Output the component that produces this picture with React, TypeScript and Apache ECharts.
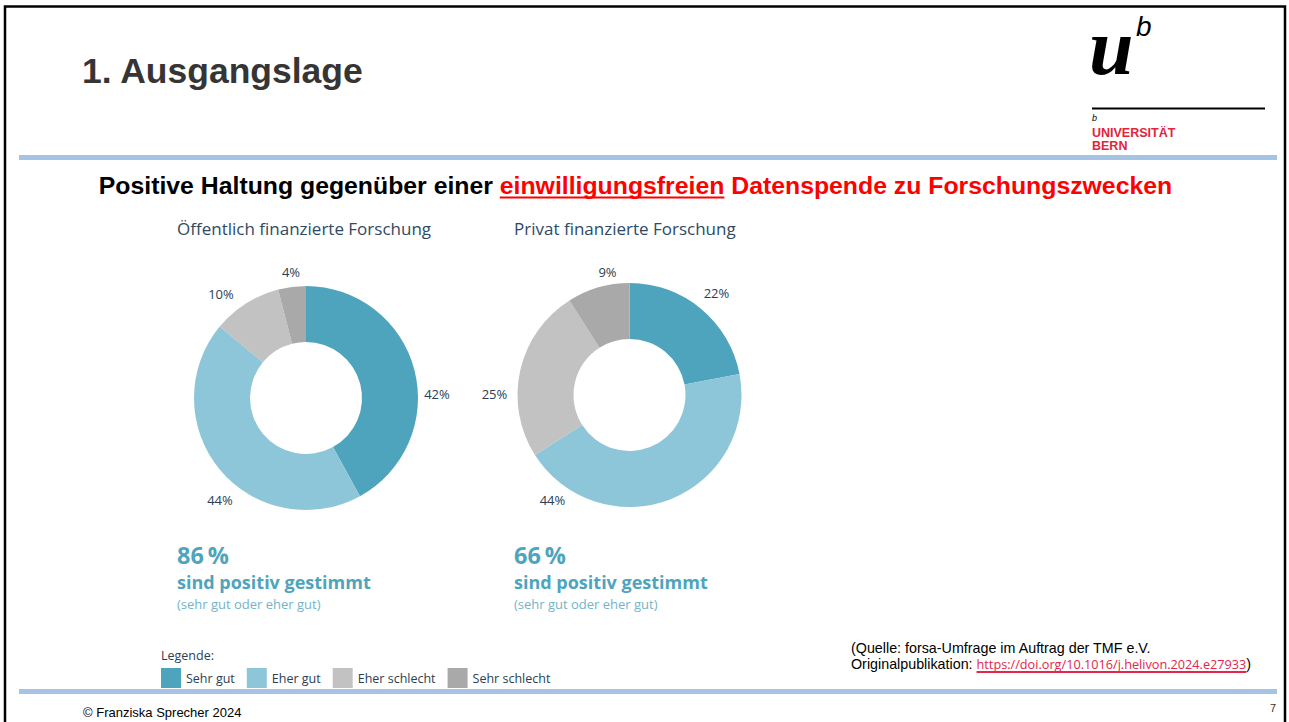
import React, { useEffect, useRef } from "react";
import * as echarts from "echarts";

// ---- data ----
const categories = ["Sehr gut", "Eher gut", "Eher schlecht", "Sehr schlecht"];
const publicValues = [42, 44, 10, 4];
const privateValues = [22, 44, 25, 9];
const chartTitles = ["Öffentlich finanzierte Forschung", "Privat finanzierte Forschung"];
const sliceColors = ["#4FA4BD", "#8CC6D8", "#C2C2C2", "#A9A9A9"];

// ---- layout (label anchor offsets relative to donut centre) ----
const donutCenters: [number, number][] = [
  [306, 398],
  [629.5, 395],
];
const labelOffsets: [number, number][][] = [
  [[131, -4], [-86, 102], [-85, -104], [-15, -126]],
  [[87, -102], [-77, 105], [-135, -1], [-22, -123]],
];

const NAVY = "#2B3E55";
const TEAL = "#4FA4BD";

function measure(text: string, font: string): number {
  const c = document.createElement("canvas").getContext("2d")!;
  c.font = font;
  return c.measureText(text).width;
}

export default function App() {
  const ref = useRef<HTMLDivElement>(null);
  useEffect(() => {
    if (!ref.current) return;
    const chart = echarts.init(ref.current, undefined, { renderer: "svg" });

    // subtitle pieces (fitted to span 98..1173)
    const s1 = "Positive Haltung gegenüber einer ";
    const s2 = "einwilligungsfreien";
    const s3 = " Datenspende zu Forschungszwecken";
    const baseFont = (sz: number) => `bold ${sz}px "Liberation Sans"`;
    const baseW = measure(s1 + s2 + s3, baseFont(20));
    const subSize = Math.round((20 * 1075) / baseW * 10) / 10;
    const subFont = baseFont(subSize);
    const w1 = measure(s1, subFont);
    const w2 = measure(s2, subFont);
    const wAll = measure(s1 + s2 + s3, subFont);
    const subX = 635.5 - wAll / 2;

    // source pieces
    const srcFont = '14.3px "Liberation Sans"';
    const linkFont = '12.7px "Open Sans"';
    const o1 = "Originalpublikation: ";
    const link = "https://doi.org/10.1016/j.helivon.2024.e27933";
    const ow = measure(o1, srcFont);
    const lw = measure(link, linkFont);
    const srcX = 851;

    const shares = [publicValues, privateValues].map((v) => v[0] + v[1]);

    const pie = (idx: number, values: number[]) => ({
      type: "pie",
      name: chartTitles[idx],
      center: donutCenters[idx],
      radius: [56, 112],
      startAngle: 90,
      clockwise: true,
      silent: true,
      data: categories.map((c, i) => ({
        name: c,
        value: values[i],
        itemStyle: { color: sliceColors[i] },
      })),
      label: {
        show: true,
        position: "outside",
        formatter: "{c}%",
        color: NAVY,
        fontSize: 13,
        fontFamily: "Open Sans",
      },
      labelLine: { show: false },
      labelLayout: (p: any) => {
        const off = labelOffsets[idx][p.dataIndex];
        return {
          x: donutCenters[idx][0] + off[0],
          y: donutCenters[idx][1] + off[1],
          align: "center",
          verticalAlign: "middle",
        };
      },
    });

    const textsFor = (idx: number, left: number) => [
      {
        type: "text",
        x: left,
        y: 228,
        style: {
          text: chartTitles[idx],
          font: '17px "Open Sans"',
          fill: "#2E4A64",
          textAlign: "left",
          textVerticalAlign: "middle",
        },
      },
      {
        type: "text",
        x: left,
        y: 554.5,
        style: {
          text: shares[idx] + "\u2009%",
          font: 'bold 23.5px "Open Sans"',
          fill: TEAL,
          textAlign: "left",
          textVerticalAlign: "middle",
        },
      },
      {
        type: "text",
        x: left,
        y: 582,
        style: {
          text: "sind positiv gestimmt",
          font: 'bold 18px "Open Sans"',
          fill: TEAL,
          textAlign: "left",
          textVerticalAlign: "middle",
        },
      },
      {
        type: "text",
        x: left,
        y: 603.5,
        style: {
          text: "(sehr gut oder eher gut)",
          font: '13px "Open Sans"',
          fill: "#72B4C9",
          textAlign: "left",
          textVerticalAlign: "middle",
        },
      },
    ];

    const option: any = {
      animation: false,
      backgroundColor: "#ffffff",
      legend: {
        show: true,
        left: 161,
        top: 668,
        padding: 0,
        itemWidth: 20,
        itemHeight: 20,
        itemGap: 12,
        icon: "rect",
        selectedMode: false,
        data: categories,
        textStyle: { color: NAVY, fontSize: 12.5, fontFamily: "Open Sans" },
      },
      series: [pie(0, publicValues), pie(1, privateValues)],
      graphic: [
        // slide frame
        {
          type: "rect",
          shape: { x: 5, y: 6.5, width: 1280, height: 730 },
          style: { fill: "none", stroke: "#000", lineWidth: 2.5 },
        },
        // title
        {
          type: "text",
          x: 82,
          y: 71,
          style: {
            text: "1. Ausgangslage",
            font: 'bold 35.5px "Liberation Sans"',
            fill: "#353535",
            textAlign: "left",
            textVerticalAlign: "middle",
          },
        },
        // logo
        {
          type: "text",
          x: 1089,
          y: 47,
          style: {
            text: "u",
            font: 'bold italic 80px "Liberation Serif"',
            fill: "#000",
            textAlign: "left",
            textVerticalAlign: "middle",
          },
        },
        {
          type: "text",
          x: 1136,
          y: 26,
          style: {
            text: "b",
            font: 'italic 28px "Liberation Sans"',
            fill: "#000",
            textAlign: "left",
            textVerticalAlign: "middle",
          },
        },
        {
          type: "line",
          shape: { x1: 1092, y1: 108.5, x2: 1265, y2: 108.5 },
          style: { stroke: "#000", lineWidth: 2 },
        },
        {
          type: "text",
          x: 1092,
          y: 118,
          style: {
            text: "b",
            font: 'italic 9px "Liberation Sans"',
            fill: "#000",
            textAlign: "left",
            textVerticalAlign: "middle",
          },
        },
        {
          type: "text",
          x: 1092,
          y: 133,
          style: {
            text: "UNIVERSITÄT",
            font: 'bold 12.5px "Liberation Sans"',
            fill: "#E3243B",
            textAlign: "left",
            textVerticalAlign: "middle",
          },
        },
        {
          type: "text",
          x: 1092,
          y: 146,
          style: {
            text: "BERN",
            font: 'bold 12.5px "Liberation Sans"',
            fill: "#E3243B",
            textAlign: "left",
            textVerticalAlign: "middle",
          },
        },
        // rules
        {
          type: "rect",
          shape: { x: 19, y: 155, width: 1258, height: 5 },
          style: { fill: "#A5C3E2" },
        },
        {
          type: "rect",
          shape: { x: 19, y: 689, width: 1258, height: 5 },
          style: { fill: "#A5C3E2" },
        },
        // subtitle
        {
          type: "text",
          x: subX,
          y: 185,
          style: { text: s1, font: subFont, fill: "#000", textAlign: "left", textVerticalAlign: "middle" },
        },
        {
          type: "text",
          x: subX + w1,
          y: 185,
          style: { text: s2, font: subFont, fill: "#FF0000", textAlign: "left", textVerticalAlign: "middle" },
        },
        {
          type: "line",
          shape: { x1: subX + w1, y1: 197.5, x2: subX + w1 + w2, y2: 197.5 },
          style: { stroke: "#FF0000", lineWidth: 2 },
        },
        {
          type: "text",
          x: subX + w1 + w2,
          y: 185,
          style: { text: s3, font: subFont, fill: "#FF0000", textAlign: "left", textVerticalAlign: "middle" },
        },
        ...textsFor(0, 177),
        ...textsFor(1, 514),
        // legend caption
        {
          type: "text",
          x: 161,
          y: 655,
          style: {
            text: "Legende:",
            font: '12.5px "Open Sans"',
            fill: NAVY,
            textAlign: "left",
            textVerticalAlign: "middle",
          },
        },
        // source
        {
          type: "text",
          x: srcX,
          y: 648,
          style: {
            text: "(Quelle: forsa-Umfrage im Auftrag der TMF e.V.",
            font: srcFont,
            fill: "#000",
            textAlign: "left",
            textVerticalAlign: "middle",
          },
        },
        {
          type: "text",
          x: srcX,
          y: 664,
          style: { text: o1, font: srcFont, fill: "#000", textAlign: "left", textVerticalAlign: "middle" },
        },
        {
          type: "text",
          x: srcX + ow,
          y: 664,
          style: { text: link, font: linkFont, fill: "#E3264A", textAlign: "left", textVerticalAlign: "middle" },
        },
        {
          type: "line",
          shape: { x1: srcX + ow, y1: 672, x2: srcX + ow + lw, y2: 672 },
          style: { stroke: "#E3264A", lineWidth: 2 },
        },
        {
          type: "text",
          x: srcX + ow + lw,
          y: 664,
          style: { text: ")", font: srcFont, fill: "#000", textAlign: "left", textVerticalAlign: "middle" },
        },
        // footer
        {
          type: "text",
          x: 83,
          y: 712,
          style: {
            text: "© Franziska Sprecher 2024",
            font: '13px "Liberation Sans"',
            fill: "#000",
            textAlign: "left",
            textVerticalAlign: "middle",
          },
        },
        {
          type: "text",
          x: 1276,
          y: 708,
          style: {
            text: "7",
            font: '11px "Liberation Sans"',
            fill: "#333",
            textAlign: "right",
            textVerticalAlign: "middle",
          },
        },
      ],
    };
    chart.setOption(option);
    return () => chart.dispose();
  }, []);
  return (
    <div
      ref={ref}
      style={{ position: "fixed", left: 0, top: 0, width: 1289, height: 722, background: "#fff" }}
    />
  );
}
